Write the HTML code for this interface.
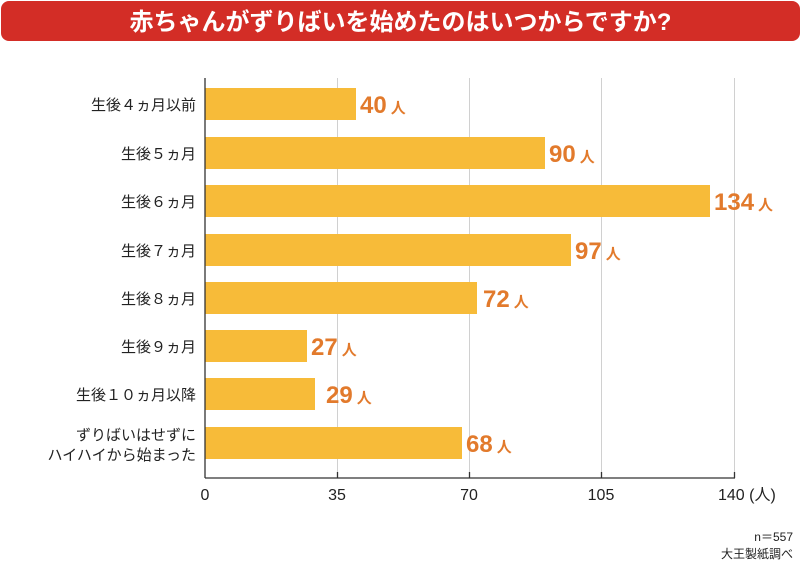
<!DOCTYPE html>
<html><head><meta charset="utf-8"><style>
body{margin:0;width:801px;height:572px;background:#fff;overflow:hidden;font-family:"Liberation Sans","Noto Sans CJK JP",sans-serif;}
</style></head><body>
<svg width="801" height="572" xmlns="http://www.w3.org/2000/svg" style="font-family:'Liberation Sans','Noto Sans CJK JP',sans-serif">
<rect x="1" y="1" width="799" height="40" rx="8" fill="#d32d26"/>
<text x="400.5" y="30" text-anchor="middle" font-size="24" font-weight="bold" fill="#fff">赤ちゃんがずりばいを始めたのはいつからですか?</text>
<g stroke="#d0d0d0" stroke-width="1">
<line x1="337.5" y1="78" x2="337.5" y2="478"/><line x1="469.5" y1="78" x2="469.5" y2="478"/><line x1="601.5" y1="78" x2="601.5" y2="478"/><line x1="734.5" y1="78" x2="734.5" y2="478"/>
</g>
<g fill="#f7bb39">
<rect x="205" y="88" width="151" height="32"/>
<rect x="205" y="137" width="340" height="32"/>
<rect x="205" y="185" width="505" height="32"/>
<rect x="205" y="234" width="366" height="32"/>
<rect x="205" y="282" width="272" height="32"/>
<rect x="205" y="330" width="102" height="32"/>
<rect x="205" y="378" width="110" height="32"/>
<rect x="205" y="427" width="257" height="32"/>
</g>
<g stroke="#333" stroke-width="1.3">
<line x1="205" y1="78" x2="205" y2="478"/><line x1="205" y1="478" x2="735" y2="478"/>
<line x1="337.5" y1="472" x2="337.5" y2="478"/><line x1="469.5" y1="472" x2="469.5" y2="478"/><line x1="601.5" y1="472" x2="601.5" y2="478"/><line x1="734.5" y1="472" x2="734.5" y2="478"/>
</g>
<g font-size="15" fill="#222" text-anchor="end">
<text x="196" y="110">生後４ヵ月以前</text>
<text x="196" y="159">生後５ヵ月</text>
<text x="196" y="207">生後６ヵ月</text>
<text x="196" y="256">生後７ヵ月</text>
<text x="196" y="304">生後８ヵ月</text>
<text x="196" y="352">生後９ヵ月</text>
<text x="196" y="400">生後１０ヵ月以降</text>
<text x="196" y="440">ずりばいはせずに</text>
<text x="196" y="460">ハイハイから始まった</text>
</g>
<g fill="#e27a2c" font-weight="bold">
<text x="360" y="113" font-size="24">40<tspan font-size="15" dx="4">人</tspan></text>
<text x="549" y="162" font-size="24">90<tspan font-size="15" dx="4">人</tspan></text>
<text x="714" y="210" font-size="24">134<tspan font-size="15" dx="4">人</tspan></text>
<text x="575" y="259" font-size="24">97<tspan font-size="15" dx="4">人</tspan></text>
<text x="483" y="307" font-size="24">72<tspan font-size="15" dx="4">人</tspan></text>
<text x="311" y="355" font-size="24">27<tspan font-size="15" dx="4">人</tspan></text>
<text x="326" y="403" font-size="24">29<tspan font-size="15" dx="4">人</tspan></text>
<text x="466" y="452" font-size="24">68<tspan font-size="15" dx="4">人</tspan></text>
</g>
<g font-size="16" fill="#222" text-anchor="middle">
<text x="205" y="500">0</text><text x="337" y="500">35</text><text x="469" y="500">70</text><text x="601" y="500">105</text>
<text x="718" y="500" text-anchor="start">140 (人)</text>
</g>
<text x="793" y="541" font-size="12" fill="#222" text-anchor="end">n＝557</text>
<text x="793" y="558" font-size="12" fill="#222" text-anchor="end">大王製紙調べ</text>
</svg>
</body></html>
